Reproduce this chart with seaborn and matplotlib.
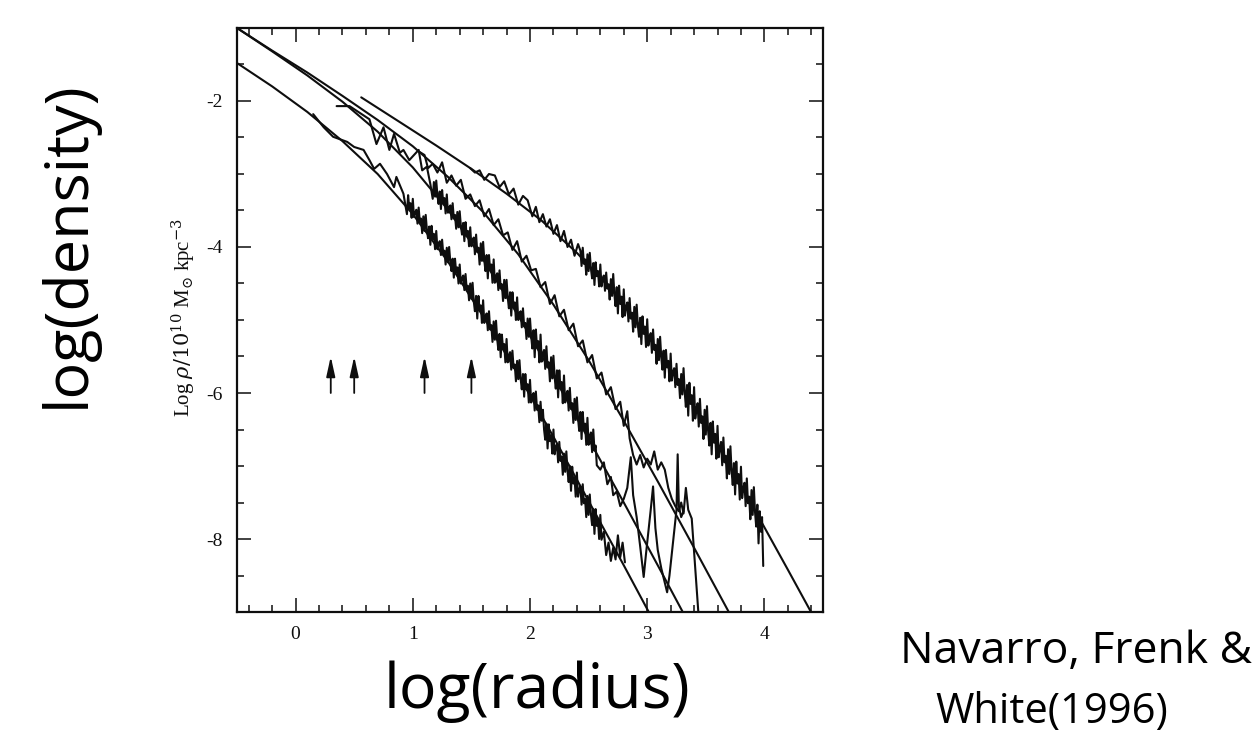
import matplotlib
matplotlib.use("Agg")
import matplotlib.pyplot as plt
from matplotlib import font_manager
from matplotlib.ticker import MultipleLocator, FixedLocator
import seaborn as sns
import pandas as pd

# NFW fits (log r, log rho)
fit_a_x = [0.56, 0.9, 1.2, 1.5, 1.8, 2.1, 2.4, 2.7, 3.0, 3.3, 3.6, 3.9, 4.2, 4.5]
fit_a_y = [-1.95, -2.30, -2.61, -2.93, -3.27, -3.64, -4.08, -4.59, -5.21, -5.92, -6.71, -7.55, -8.42, -9.30]

fit_b_x = [-0.5, -0.2, 0.1, 0.4, 0.7, 1.0, 1.3, 1.6, 1.9, 2.2, 2.5, 2.8, 3.1, 3.4, 3.75]
fit_b_y = [-1.00, -1.31, -1.61, -1.93, -2.26, -2.62, -3.04, -3.52, -4.10, -4.79, -5.55, -6.38, -7.24, -8.12, -9.16]

fit_c_x = [-0.5, -0.2, 0.1, 0.4, 0.7, 1.0, 1.3, 1.6, 1.9, 2.2, 2.5, 2.8, 3.1, 3.4]
fit_c_y = [-1.00, -1.32, -1.65, -2.01, -2.42, -2.91, -3.49, -4.17, -4.94, -5.77, -6.63, -7.50, -8.39, -9.29]

fit_d_x = [-0.5, -0.2, 0.1, 0.4, 0.7, 1.0, 1.3, 1.6, 1.9, 2.2, 2.5, 2.8, 3.05]
fit_d_y = [-1.48, -1.80, -2.15, -2.55, -3.00, -3.55, -4.20, -4.95, -5.75, -6.60, -7.48, -8.36, -9.11]

# simulated profiles (noisy curves), largest halo = a
data_a_x = [1.49, 1.53, 1.57, 1.61, 1.65, 1.70, 1.74, 1.78, 1.82, 1.86, 1.90, 1.94, 1.98,
            2.02, 2.05, 2.08, 2.11, 2.14, 2.17, 2.20, 2.23, 2.26, 2.29, 2.32, 2.35, 2.38, 2.41,
            2.43, 2.44, 2.45, 2.46, 2.47, 2.48, 2.49, 2.50, 2.51, 2.52,
            2.53, 2.54, 2.55, 2.56, 2.57, 2.58, 2.59, 2.60, 2.61, 2.62,
            2.63, 2.64, 2.65, 2.66, 2.67, 2.68, 2.69, 2.70, 2.71, 2.72,
            2.73, 2.74, 2.75, 2.76, 2.77, 2.78, 2.79, 2.80, 2.81, 2.82,
            2.83, 2.84, 2.85, 2.86, 2.87, 2.88, 2.89, 2.90, 2.91, 2.92,
            2.93, 2.94, 2.95, 2.96, 2.97, 2.98, 2.99, 3.00, 3.01, 3.02,
            3.03, 3.04, 3.05, 3.06, 3.07, 3.08, 3.09, 3.10, 3.11, 3.12,
            3.13, 3.14, 3.15, 3.16, 3.17, 3.18, 3.19, 3.20, 3.21, 3.22,
            3.23, 3.24, 3.25, 3.26, 3.27, 3.28, 3.29, 3.30, 3.31, 3.32,
            3.33, 3.34, 3.35, 3.36, 3.37, 3.38, 3.39, 3.40, 3.41, 3.42,
            3.43, 3.44, 3.45, 3.46, 3.47, 3.48, 3.49, 3.50, 3.51, 3.52,
            3.53, 3.54, 3.55, 3.56, 3.57, 3.58, 3.59, 3.60, 3.61, 3.62,
            3.63, 3.64, 3.65, 3.66, 3.67, 3.68, 3.69, 3.70, 3.71, 3.72,
            3.73, 3.74, 3.75, 3.76, 3.77, 3.78, 3.79, 3.80, 3.81, 3.82,
            3.83, 3.84, 3.85, 3.86, 3.87, 3.88, 3.89, 3.90, 3.91, 3.92,
            3.93, 3.94, 3.95, 3.96, 3.97, 3.98, 3.99]
data_a_y = [-2.92, -2.98, -2.95, -3.08, -3.00, -3.02, -3.18, -3.10, -3.28, -3.20, -3.42, -3.30, -3.36,
            -3.58, -3.45, -3.66, -3.55, -3.72, -3.62, -3.82, -3.70, -3.92, -3.78, -4.00, -3.90, -4.12, -3.96,
            -4.05, -4.26, -4.01, -4.23, -4.17, -4.38, -4.10, -4.33, -4.08, -4.30,
            -4.43, -4.22, -4.52, -4.21, -4.40, -4.33, -4.54, -4.24, -4.54, -4.43,
            -4.39, -4.60, -4.35, -4.57, -4.51, -4.72, -4.44, -4.67, -4.37, -4.65,
            -4.81, -4.55, -4.91, -4.53, -4.78, -4.68, -4.96, -4.58, -4.94, -4.82,
            -4.76, -5.02, -4.70, -4.98, -4.90, -5.16, -4.82, -5.10, -4.79, -5.07,
            -5.23, -4.97, -5.33, -4.95, -5.19, -5.09, -5.37, -4.99, -5.35, -5.24,
            -5.18, -5.45, -5.13, -5.41, -5.34, -5.60, -5.26, -5.55, -5.23, -5.51,
            -5.68, -5.42, -5.79, -5.41, -5.65, -5.56, -5.84, -5.46, -5.83, -5.71,
            -5.66, -5.92, -5.60, -5.89, -5.81, -6.07, -5.74, -6.02, -5.66, -5.99,
            -6.19, -5.89, -6.31, -5.86, -6.15, -6.03, -6.38, -5.92, -6.35, -6.22,
            -6.14, -6.46, -6.08, -6.41, -6.32, -6.63, -6.23, -6.57, -6.18, -6.52,
            -6.72, -6.41, -6.84, -6.39, -6.68, -6.56, -6.90, -6.45, -6.88, -6.75,
            -6.67, -6.99, -6.61, -6.95, -6.86, -7.17, -6.77, -7.11, -6.73, -7.07,
            -7.26, -6.96, -7.39, -6.94, -7.24, -7.11, -7.46, -7.01, -7.44, -7.31,
            -7.23, -7.55, -7.17, -7.51, -7.42, -7.73, -7.33, -7.67, -7.29, -7.63,
            -7.83, -7.53, -8.06, -7.62, -7.90, -7.70, -8.37]

data_b_x = [1.06, 1.10, 1.13, 1.17, 1.21, 1.25, 1.29, 1.33, 1.37, 1.41, 1.45, 1.49, 1.53, 1.57,
            1.61, 1.65, 1.69, 1.73, 1.77, 1.81, 1.85, 1.89, 1.93, 1.97, 2.01, 2.05, 2.09, 2.13,
            2.17, 2.21, 2.25, 2.29, 2.33, 2.37, 2.41, 2.45, 2.49, 2.53, 2.57, 2.61, 2.65, 2.69,
            2.73, 2.77, 2.80, 2.83, 2.85, 2.88, 2.91, 2.94, 2.97, 3.00, 3.03, 3.06, 3.09, 3.12,
            3.15, 3.18, 3.21, 3.24, 3.27, 3.29, 3.31, 3.33, 3.35, 3.38, 3.445]
data_b_y = [-2.70, -2.74, -2.92, -2.86, -2.98, -2.84, -3.12, -3.02, -3.16, -3.08, -3.34, -3.28, -3.44, -3.36,
            -3.58, -3.48, -3.70, -3.62, -3.84, -3.80, -4.04, -3.92, -4.20, -4.12, -4.32, -4.30, -4.55, -4.48,
            -4.78, -4.66, -4.95, -4.86, -5.14, -5.05, -5.36, -5.28, -5.58, -5.48, -5.80, -5.72, -6.02, -5.92,
            -6.22, -6.12, -6.45, -6.25, -6.62, -6.85, -6.98, -6.85, -7.02, -6.90, -6.98, -6.80, -7.05, -6.95,
            -7.05, -7.30, -7.45, -7.55, -7.62, -7.50, -7.65, -7.30, -7.60, -7.72, -9.20]

data_c_x = [0.35, 0.46, 0.63, 0.69, 0.75, 0.80, 0.84, 0.89, 0.92, 0.97, 1.05, 1.08, 1.12, 1.15,
            1.17, 1.18, 1.19, 1.20, 1.21, 1.22, 1.23, 1.24, 1.25, 1.26,
            1.27, 1.28, 1.29, 1.30, 1.31, 1.32, 1.33, 1.34, 1.35, 1.36,
            1.37, 1.38, 1.39, 1.40, 1.41, 1.42, 1.43, 1.44, 1.45, 1.46,
            1.47, 1.48, 1.49, 1.50, 1.51, 1.52, 1.53, 1.54, 1.55, 1.56,
            1.57, 1.58, 1.59, 1.60, 1.61, 1.62, 1.63, 1.64, 1.65, 1.66,
            1.67, 1.68, 1.69, 1.70, 1.71, 1.72, 1.73, 1.74, 1.75, 1.76,
            1.77, 1.78, 1.79, 1.80, 1.81, 1.82, 1.83, 1.84, 1.85, 1.86,
            1.87, 1.88, 1.89, 1.90, 1.91, 1.92, 1.93, 1.94, 1.95, 1.96,
            1.97, 1.98, 1.99, 2.00, 2.01, 2.02, 2.03, 2.04, 2.05, 2.06,
            2.07, 2.08, 2.09, 2.10, 2.11, 2.12, 2.13, 2.14, 2.15, 2.16,
            2.17, 2.18, 2.19, 2.20, 2.21, 2.22, 2.23, 2.24, 2.25, 2.26,
            2.27, 2.28, 2.29, 2.30, 2.31, 2.32, 2.33, 2.34, 2.35, 2.36,
            2.37, 2.38, 2.39, 2.40, 2.41, 2.42, 2.43, 2.44, 2.45, 2.46,
            2.47, 2.48, 2.49, 2.50, 2.51, 2.52, 2.53, 2.54, 2.55, 2.56,
            2.57, 2.60, 2.63, 2.66, 2.69, 2.71, 2.74, 2.77, 2.80, 2.83, 2.86, 2.88, 2.91, 2.94,
            2.97, 2.99, 3.01, 3.03, 3.05, 3.07, 3.09, 3.12, 3.15, 3.17, 3.19, 3.21, 3.23, 3.25,
            3.26, 3.27, 3.29, 3.31]
data_c_y = [-2.07, -2.07, -2.25, -2.59, -2.36, -2.67, -2.45, -2.71, -2.67, -2.81, -2.67, -2.95, -2.90, -3.14,
            -3.34, -3.11, -3.31, -3.09, -3.29, -3.41, -3.24, -3.48, -3.22, -3.40,
            -3.33, -3.54, -3.28, -3.53, -3.46, -3.43, -3.62, -3.40, -3.61, -3.56,
            -3.75, -3.52, -3.73, -3.51, -3.71, -3.83, -3.67, -3.92, -3.66, -3.85,
            -3.78, -3.99, -3.73, -3.99, -3.91, -3.87, -4.10, -3.83, -4.07, -4.01,
            -4.24, -3.95, -4.19, -3.93, -4.18, -4.33, -4.11, -4.43, -4.11, -4.32,
            -4.24, -4.49, -4.17, -4.49, -4.40, -4.36, -4.59, -4.32, -4.57, -4.51,
            -4.74, -4.45, -4.70, -4.45, -4.69, -4.84, -4.62, -4.94, -4.62, -4.83,
            -4.76, -5.00, -4.69, -5.00, -4.91, -4.88, -5.10, -4.84, -5.09, -5.04,
            -5.26, -4.98, -5.23, -4.98, -5.22, -5.39, -5.14, -5.51, -5.13, -5.38,
            -5.29, -5.58, -5.20, -5.57, -5.46, -5.41, -5.67, -5.36, -5.65, -5.58,
            -5.84, -5.51, -5.80, -5.49, -5.78, -5.94, -5.69, -6.06, -5.69, -5.94,
            -5.85, -6.14, -5.76, -6.13, -6.02, -5.97, -6.24, -5.93, -6.22, -6.14,
            -6.41, -6.08, -6.37, -6.06, -6.35, -6.52, -6.26, -6.63, -6.26, -6.51,
            -6.42, -6.71, -6.34, -6.71, -6.59, -6.54, -6.81, -6.50, -6.79, -6.72,
            -6.99, -7.05, -6.95, -7.25, -7.15, -7.40, -7.35, -7.55, -7.45, -7.30, -6.88, -7.40, -7.70, -8.10,
            -8.52, -8.20, -7.90, -7.60, -7.28, -7.85, -8.15, -8.40, -8.60, -8.73, -8.50, -8.20, -7.90, -7.60,
            -6.84, -7.55, -7.70, -7.62]

data_d_x = [0.15, 0.24, 0.32, 0.44, 0.50, 0.58, 0.63, 0.67, 0.72, 0.78, 0.84, 0.86, 0.92,
            0.95, 0.96, 0.97, 0.98, 0.99, 1.00, 1.01, 1.02, 1.03, 1.04,
            1.05, 1.06, 1.07, 1.08, 1.09, 1.10, 1.11, 1.12, 1.13, 1.14,
            1.15, 1.16, 1.17, 1.18, 1.19, 1.20, 1.21, 1.22, 1.23, 1.24,
            1.25, 1.26, 1.27, 1.28, 1.29, 1.30, 1.31, 1.32, 1.33, 1.34,
            1.35, 1.36, 1.37, 1.38, 1.39, 1.40, 1.41, 1.42, 1.43, 1.44,
            1.45, 1.46, 1.47, 1.48, 1.49, 1.50, 1.51, 1.52, 1.53, 1.54,
            1.55, 1.56, 1.57, 1.58, 1.59, 1.60, 1.61, 1.62, 1.63, 1.64,
            1.65, 1.66, 1.67, 1.68, 1.69, 1.70, 1.71, 1.72, 1.73, 1.74,
            1.75, 1.76, 1.77, 1.78, 1.79, 1.80, 1.81, 1.82, 1.83, 1.84,
            1.85, 1.86, 1.87, 1.88, 1.89, 1.90, 1.91, 1.92, 1.93, 1.94,
            1.95, 1.96, 1.97, 1.98, 1.99, 2.00, 2.01, 2.02, 2.03, 2.04,
            2.05, 2.06, 2.07, 2.08, 2.09, 2.10, 2.11, 2.12, 2.13, 2.14,
            2.15, 2.16, 2.17, 2.18, 2.19, 2.20, 2.21, 2.22, 2.23, 2.24,
            2.25, 2.26, 2.27, 2.28, 2.29, 2.30, 2.31, 2.32, 2.33, 2.34,
            2.35, 2.36, 2.37, 2.38, 2.39, 2.40, 2.41, 2.42, 2.43, 2.44,
            2.45, 2.46, 2.47, 2.48, 2.49, 2.50, 2.51, 2.52, 2.53, 2.54,
            2.55, 2.56, 2.57, 2.58, 2.59, 2.60, 2.61,
            2.63, 2.65, 2.67, 2.69, 2.71, 2.73, 2.75, 2.77, 2.79, 2.81]
data_d_y = [-2.18, -2.36, -2.49, -2.56, -2.63, -2.67, -2.81, -2.93, -2.86, -3.00, -3.18, -3.04, -3.27,
            -3.55, -3.29, -3.47, -3.40, -3.60, -3.34, -3.59, -3.53, -3.49, -3.68,
            -3.46, -3.66, -3.61, -3.81, -3.58, -3.78, -3.56, -3.76, -3.88, -3.72,
            -3.97, -3.71, -3.89, -3.82, -4.03, -3.78, -4.03, -3.96, -3.92, -4.11,
            -3.90, -4.10, -4.05, -4.24, -4.01, -4.21, -4.00, -4.20, -4.33, -4.16,
            -4.42, -4.16, -4.35, -4.28, -4.50, -4.24, -4.50, -4.43, -4.39, -4.59,
            -4.37, -4.58, -4.53, -4.73, -4.50, -4.71, -4.49, -4.74, -4.88, -4.67,
            -4.98, -4.67, -4.87, -4.80, -5.04, -4.73, -5.04, -4.95, -4.91, -5.14,
            -4.88, -5.13, -5.07, -5.30, -5.02, -5.27, -5.01, -5.26, -5.41, -5.19,
            -5.51, -5.20, -5.40, -5.33, -5.58, -5.26, -5.58, -5.49, -5.44, -5.68,
            -5.42, -5.66, -5.61, -5.84, -5.56, -5.81, -5.55, -5.80, -5.95, -5.74,
            -6.05, -5.74, -5.95, -5.88, -6.13, -5.82, -6.13, -6.04, -6.00, -6.24,
            -5.98, -6.23, -6.17, -6.40, -6.12, -6.38, -6.23, -6.50, -6.64, -6.42,
            -6.76, -6.43, -6.66, -6.58, -6.83, -6.50, -6.84, -6.74, -6.70, -6.95,
            -6.67, -6.93, -6.87, -7.12, -6.83, -7.08, -6.80, -7.07, -7.22, -7.00,
            -7.34, -7.01, -7.24, -7.16, -7.42, -7.09, -7.42, -7.32, -7.28, -7.53,
            -7.25, -7.51, -7.45, -7.70, -7.41, -7.67, -7.39, -7.66, -7.81, -7.59,
            -7.93, -7.59, -7.82, -7.74, -8.00, -7.67, -8.01,
            -7.90, -8.22, -8.05, -8.30, -8.12, -8.28, -7.95, -8.25, -8.05, -8.32]

# softening-length arrows
arrow_x = [0.3, 0.5, 1.1, 1.5]
arrow_tail = -6.0
arrow_tip = -5.5

y_ticks = [-2, -4, -6, -8]
x_ticks = [0, 1, 2, 3, 4]

sns.set_theme(style="ticks")
names = {f.name for f in font_manager.fontManager.ttflist}
serif = "Liberation Serif" if "Liberation Serif" in names else "DejaVu Serif"
plt.rcParams["font.family"] = [serif, "DejaVu Serif"]
plt.rcParams["mathtext.fontset"] = "dejavuserif"
plt.rcParams["axes.unicode_minus"] = False
big = ["Open Sans", "DejaVu Sans"]

fig = plt.figure(figsize=(12.59, 7.51), dpi=100)
ax = fig.add_axes([237 / 1259, 1 - 612 / 751, 586 / 1259, 584 / 751])

ink = "#0e0e0e"
for fx, fy in [(fit_a_x, fit_a_y), (fit_b_x, fit_b_y), (fit_c_x, fit_c_y), (fit_d_x, fit_d_y)]:
    sns.lineplot(x=fx, y=fy, sort=False, estimator=None, color=ink, linewidth=1.5, ax=ax)

for dx, dy in [(data_a_x, data_a_y), (data_b_x, data_b_y), (data_c_x, data_c_y), (data_d_x, data_d_y)]:
    df = pd.DataFrame({"logr": dx, "logrho": dy})
    sns.lineplot(data=df, x="logr", y="logrho", sort=False, estimator=None,
                 color=ink, linewidth=1.5, ax=ax)

for xa in arrow_x:
    ax.annotate("", xy=(xa, arrow_tip), xytext=(xa, arrow_tail),
                arrowprops=dict(arrowstyle="-|>,head_length=1.0,head_width=0.22",
                                color=ink, lw=1.3, shrinkA=0, shrinkB=0))

ax.set_xlim(-0.5, 4.5)
ax.set_ylim(-9, -1)
ax.xaxis.set_major_locator(FixedLocator(x_ticks))
ax.yaxis.set_major_locator(FixedLocator(y_ticks))
ax.xaxis.set_minor_locator(MultipleLocator(0.2))
ax.yaxis.set_minor_locator(MultipleLocator(0.5))
ax.set_xticklabels([str(v) for v in x_ticks])
ax.set_yticklabels([str(v) for v in y_ticks])
ax.tick_params(which="both", direction="in", top=True, right=True, width=1.1, colors=ink,
               labelsize=14, pad=10)
ax.tick_params(which="major", length=10)
ax.tick_params(which="minor", length=5)
for s in ax.spines.values():
    s.set_linewidth(1.6)
    s.set_color(ink)
ax.set_xlabel("")
ax.set_ylabel("")

fig.text(184 / 1259, 1 - 318 / 751, r"Log $\rho/10^{10}$ M$_{\odot}$ kpc$^{-3}$",
         rotation=90, ha="center", va="center", fontsize=15, color=ink)

fig.text(68 / 1259, 1 - 244 / 751, "log(density)", rotation=90, ha="center", va="center",
         fontsize=44, family=big, color="black")
fig.text(537 / 1259, 1 - 692 / 751, "log(radius)", ha="center", va="center",
         fontsize=45, family=big, color="black")
fig.text(900 / 1259, 1 - 652 / 751, "Navarro, Frenk &", ha="left", va="center",
         fontsize=32, family=big, color="black")
fig.text(935 / 1259, 1 - 712 / 751, "White(1996)", ha="left", va="center",
         fontsize=30, family=big, color="black")

fig.savefig("out.png", dpi=100, facecolor="white")
